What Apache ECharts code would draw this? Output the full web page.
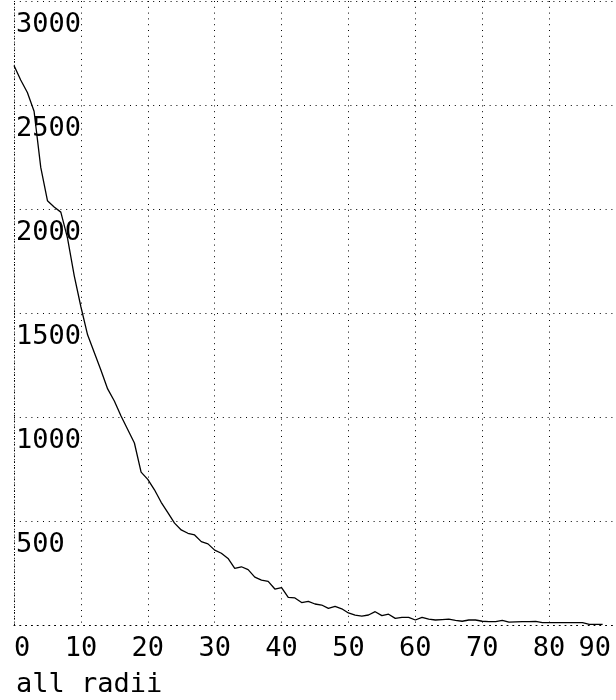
<!DOCTYPE html>
<html>
<head>
<meta charset="utf-8">
<script src="https://cdn.jsdelivr.net/npm/echarts@6/dist/echarts.min.js"></script>
<style>
html,body{margin:0;padding:0;background:#fff;}
#chart{width:616px;height:700px;}
</style>
</head>
<body>
<div id="chart"></div>
<script>
var radii = [0,1,2,3,4,5,6,7,8,9,10,11,12,13,14,15,16,17,18,19,20,21,22,23,24,25,26,27,28,29,30,31,32,33,34,35,36,37,38,39,40,41,42,43,44,45,46,47,48,49,50,51,52,53,54,55,56,57,58,59,60,61,62,63,64,65,66,67,68,69,70,71,72,73,74,75,76,77,78,79,80,81,82,83,84,85,86,87,88];
var counts = [2690,2620,2560,2470,2200,2040,2010,1985,1860,1680,1530,1395,1310,1225,1135,1077,1005,940,875,735,700,650,590,540,490,457,441,433,401,390,360,345,320,272,280,266,230,216,210,173,180,133,130,108,114,101,96,80,90,78,58,47,43,48,64,45,52,32,37,37,24,37,28,24,26,28,22,18,24,24,18,16,16,22,14,15,16,16,17,11,11,11,11,11,11,11,3,3,3];
var xTicks = [0,10,20,30,40,50,60,70,80,90];
var yTicks = [500,1000,1500,2000,2500,3000];
var axisTitle = 'all radii';

var FONT = 'DejaVu Sans Mono';
var FS = 27;
var dotted = {color:'#000', width:1, type:[1,4.8]};
var chart = echarts.init(document.getElementById('chart'), null, {renderer:'canvas'});
var pts = radii.map(function(r,i){return [r, counts[i]];});
chart.setOption({
  animation:false,
  backgroundColor:'#fff',
  grid:{left:14, top:1, width:604, height:624, containLabel:false},
  xAxis:{
    type:'value', min:xTicks[0], max:xTicks[xTicks.length-1], interval:10,
    axisLine:{show:true, lineStyle:dotted},
    axisTick:{show:false},
    splitLine:{show:true, lineStyle:dotted},
    axisLabel:{
      fontFamily:FONT, fontSize:FS, color:'#000', margin:10,
      alignMinLabel:'left', alignMaxLabel:'right',
      formatter:function(v){ return v===90 ? '{r|'+v+'}' : String(v); },
      rich:{r:{fontFamily:FONT, fontSize:FS, color:'#000', padding:[0,5,0,0]}}
    }
  },
  yAxis:{
    type:'value', min:0, max:yTicks[yTicks.length-1], interval:500,
    axisLine:{show:true, lineStyle:dotted},
    axisTick:{show:false},
    splitLine:{show:true, lineStyle:dotted},
    axisLabel:{
      inside:true, showMinLabel:false, margin:2,
      fontFamily:FONT, fontSize:FS, color:'#000',
      verticalAlign:'top', padding:[10,0,0,0],
      formatter:function(v){ return String(v); }
    }
  },
  graphic:[{
    type:'text', left:16, top:671,
    style:{text:axisTitle, font:FS+'px "DejaVu Sans Mono"', fill:'#000'}
  }],
  series:[{
    type:'line', data:pts, showSymbol:false, symbol:'none',
    lineStyle:{color:'#000', width:1.3}
  }]
});
</script>
</body>
</html>
